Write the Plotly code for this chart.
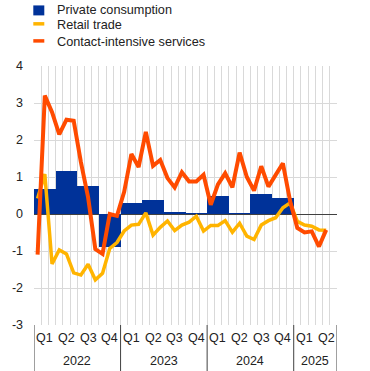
import plotly.graph_objects as go

# ---------------- data ----------------
quarters = ["Q1", "Q2", "Q3", "Q4", "Q1", "Q2", "Q3", "Q4",
            "Q1", "Q2", "Q3", "Q4", "Q1", "Q2"]
years = ["2022", "2023", "2024", "2025"]
year_quarters = [4, 4, 4, 2]

private_consumption = [0.68, 1.16, 0.76, -0.90, 0.30, 0.38, 0.06, 0.02,
                       0.48, 0.01, 0.54, 0.44, None, None]

retail_trade = [0.42, 1.08, -1.35, -0.97, -1.08, -1.59, -1.65, -1.36, -1.78, -1.60,
                -0.93, -0.77, -0.46, -0.30, -0.28, 0.03, -0.57, -0.36, -0.19, -0.45,
                -0.30, -0.22, -0.06, -0.46, -0.31, -0.31, -0.18, -0.49, -0.25, -0.60,
                -0.69, -0.30, -0.18, -0.10, 0.17, 0.30, -0.20, -0.30, -0.33, -0.43,
                -0.44]

contact_services = [-1.10, 3.20, 2.75, 2.15, 2.55, 2.52, 1.40, 0.45, -0.95, -1.08,
                    0.00, -0.05, 0.60, 1.62, 1.27, 2.22, 1.30, 1.46, 0.97, 0.72,
                    1.13, 0.88, 0.88, 1.06, 0.25, 0.80, 1.10, 0.72, 1.66, 1.00,
                    0.63, 1.29, 0.74, 1.05, 1.37, 0.35, -0.38, -0.50, -0.47, -0.88,
                    -0.43]

y_ticks = [4, 3, 2, 1, 0, -1, -2, -3]
y_tick_text = ["4", "3", "2", "1", "0", "-1", "-2", "-3"]

series_names = ["Private consumption", "Retail trade", "Contact-intensive services"]

# ---------------- style ----------------
BLUE = "#003299"
YELLOW = "#FFB400"
ORANGE = "#FF4B00"
GRID = "#d9d9d9"
DARK = "#404040"
FONT = "Arial, Liberation Sans, sans-serif"

W, H = 370, 371
L, R, T, B = 33.7, 336.7, 65.7, 325.2
n_months = 3 * len(quarters)


def px2x(px):
    return (px - L) / (R - L)


def px2y(py):
    return (B - py) / (B - T)


q_centres = [3 * i + 1.5 for i in range(len(quarters))]
m_centres_rt = [i + 0.5 for i in range(len(retail_trade))]
m_centres_cs = [i + 0.5 for i in range(len(contact_services))]

fig = go.Figure()
fig.add_trace(go.Bar(x=q_centres, y=private_consumption, width=3,
                     marker=dict(color=BLUE, line=dict(width=0)),
                     name=series_names[0], showlegend=False))
fig.add_trace(go.Scatter(x=m_centres_rt, y=retail_trade, mode="lines",
                         line=dict(color=YELLOW, width=3.5),
                         name=series_names[1], showlegend=False))
fig.add_trace(go.Scatter(x=m_centres_cs, y=contact_services, mode="lines",
                         line=dict(color=ORANGE, width=4),
                         name=series_names[2], showlegend=False))

shapes = []
annotations = []

# custom legend
legend_rows = [(10, BLUE, 5, 15), (24.5, YELLOW, 21.7, 25.2), (41.5, ORANGE, 38.8, 42.3)]
for (cy, col, y0, y1), name in zip(legend_rows, series_names):
    shapes.append(dict(type="rect", xref="paper", yref="paper",
                       x0=px2x(33), x1=px2x(44), y0=px2y(y1), y1=px2y(y0),
                       fillcolor=col, line=dict(width=0), layer="above"))
    annotations.append(dict(xref="paper", yref="paper", x=px2x(55), y=px2y(cy),
                            text=name, showarrow=False, xanchor="left",
                            yanchor="middle", font=dict(size=12.7, color="#222")))

# quarter labels
for qc, q in zip(q_centres, quarters):
    annotations.append(dict(xref="x", yref="paper", x=qc, y=px2y(338.5), text=q,
                            showarrow=False, xanchor="center", yanchor="middle",
                            font=dict(size=12.5, color="#222")))

# year labels and separators
start = 0
for yr, nq in zip(years, year_quarters):
    end = start + 3 * nq
    annotations.append(dict(xref="x", yref="paper", x=(start + end) / 2, y=px2y(361.5),
                            text=yr, showarrow=False, xanchor="center",
                            yanchor="middle", font=dict(size=12.5, color="#222")))
    shapes.append(dict(type="line", xref="x", yref="paper", x0=start, x1=start,
                       y0=0, y1=px2y(H + 2), line=dict(color=DARK, width=1)))
    start = end
shapes.append(dict(type="line", xref="x", yref="paper", x0=start, x1=start,
                   y0=0, y1=px2y(H + 2), line=dict(color=DARK, width=1)))

fig.update_layout(
    width=W, height=H,
    margin=dict(l=L, r=W - R, t=T, b=H - B, pad=0),
    paper_bgcolor="white", plot_bgcolor="white",
    font=dict(family=FONT, size=12.5, color="#222"),
    bargap=0, showlegend=False,
    shapes=shapes, annotations=annotations,
    xaxis=dict(range=[0, n_months], dtick=1, tick0=0, showgrid=True,
               gridcolor=GRID, gridwidth=1, showticklabels=False, ticks="",
               zeroline=False, showline=False, fixedrange=True),
    yaxis=dict(range=[-3, 4], tickvals=y_ticks, ticktext=y_tick_text,
               showgrid=True, gridcolor=GRID, gridwidth=1,
               zeroline=True, zerolinecolor=DARK, zerolinewidth=1.3,
               showline=False, ticks="", ticklabelstandoff=10,
               tickfont=dict(size=12.5, color="#222"), fixedrange=True),
)

fig.write_html("out.html", config={"displayModeBar": False},
               post_script="document.body.style.margin='0';document.body.style.overflow='hidden';")
